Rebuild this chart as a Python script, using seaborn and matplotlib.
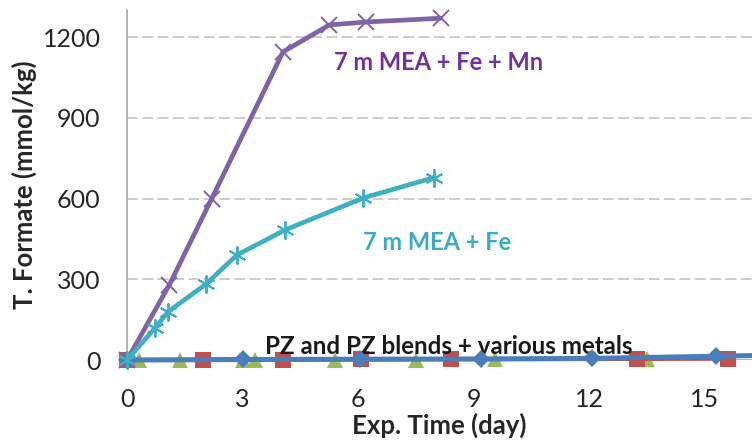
import numpy as np
import pandas as pd
import matplotlib
matplotlib.use("Agg")
import matplotlib.pyplot as plt
import seaborn as sns

# formate accumulation
mn_days = [0, 1.1, 2.2, 4.05, 5.25, 6.2, 8.15]
mn_vals = [0, 280, 600, 1145, 1245, 1256, 1270]

fe_days = [0, 0.73, 1.07, 2.05, 2.85, 4.1, 6.13, 7.97]
fe_vals = [0, 120, 180, 282, 390, 483, 602, 678]

red_days = [0, 1.97, 4.05, 6.08, 8.4, 13.25, 15.6]
red_vals = [0, 0, 1, 2, 3, 4, 5]

green_days = [0.3, 1.38, 3.0, 3.33, 5.4, 7.5, 9.55, 13.5]
green_vals = [0, 0, 0, 1, 1, 1, 2, 2]

blue_days = [0, 3.0, 6.05, 9.2, 12.07, 15.3, 17.5]
blue_vals = [0, 2, 3, 4, 6, 14, 20]

x_ticks = [0, 3, 6, 9, 12, 15]
y_ticks = [0, 300, 600, 900, 1200]

sns.set_style("white")
plt.rcParams['font.family'] = ['Lato', 'DejaVu Sans']

fig = plt.figure(figsize=(7.52, 4.42), dpi=100)
ax = fig.add_axes([0.169, 0.1855, 0.831, 0.7915])

grid_c = '#c8c8c8'
for v in y_ticks[1:]:
    ax.axhline(v, color=grid_c, lw=1.3, ls=(0, (6, 2.5)), zorder=0)

sns.lineplot(x=green_days, y=green_vals, ax=ax, color='#9BBB59', marker='^',
             markersize=12, linestyle='none', markeredgewidth=0, clip_on=False, zorder=3)
sns.lineplot(x=red_days, y=red_vals, ax=ax, color='#C0504D', marker='s',
             markersize=12, lw=3, markeredgewidth=0, clip_on=False, zorder=4)
sns.lineplot(x=blue_days, y=blue_vals, ax=ax, color='#4A7EBB', marker='D',
             markersize=9, lw=3.6, markeredgewidth=0, clip_on=False, zorder=5)
sns.lineplot(x=mn_days, y=mn_vals, ax=ax, color='#7F63A6', marker='x',
             markersize=12, lw=3.4, markeredgewidth=1.4, markeredgecolor='#7F63A6',
             clip_on=False, zorder=6)
sns.lineplot(x=fe_days, y=fe_vals, ax=ax, color='#3FAFC6', marker=(6, 2, 0),
             markersize=13, lw=3.4, markeredgewidth=1.4, markeredgecolor='#3FAFC6',
             clip_on=False, zorder=7)

ax.set_xlim(0, 16.23)
ax.set_ylim(0, 1300)
ax.set_xticks(x_ticks)
ax.set_yticks(y_ticks)
ax.tick_params(axis='both', labelsize=18, colors='#262626', length=6, width=1,
               color='#a6a6a6', direction='out')
ax.tick_params(axis='y', pad=13)
ax.tick_params(axis='x', length=9, pad=11)

for s in ['top', 'right', 'bottom']:
    ax.spines[s].set_visible(False)
ax.spines['left'].set_color('#a6a6a6')
ax.spines['left'].set_linewidth(1.2)
ax.axhline(0, color='#a6a6a6', lw=1.2, zorder=1)

ax.set_xlabel('Exp. Time (day)', fontsize=18.5, fontweight='bold', labelpad=1)
ax.set_ylabel('T. Formate (mmol/kg)', fontsize=18.5, fontweight='bold', labelpad=4)

ax.text(8.1, 1107, '7 m MEA + Fe + Mn', color='#7030A0', fontsize=17,
        fontweight='bold', ha='center', va='center')
ax.text(8.05, 435, '7 m MEA + Fe', color='#3AACC4', fontsize=17,
        fontweight='bold', ha='center', va='center')
ax.text(8.36, 50, 'PZ and PZ blends + various metals', color='#1a1a1a', fontsize=17.4,
        fontweight='bold', ha='center', va='center', zorder=4.5)

fig.savefig('out.png', dpi=100)
